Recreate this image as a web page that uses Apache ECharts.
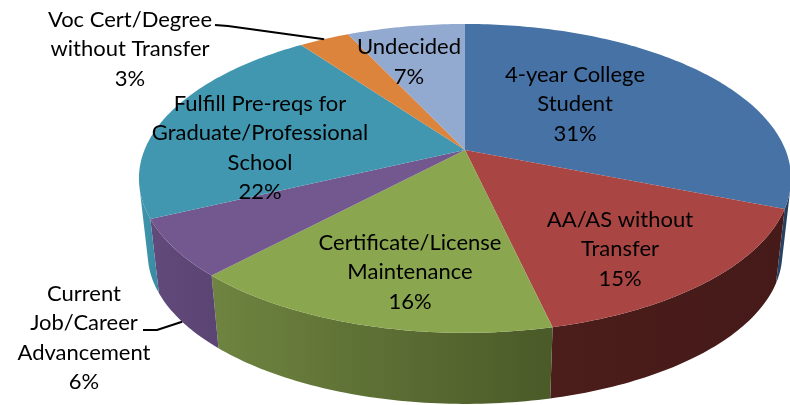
<!DOCTYPE html>
<html>
<head>
<meta charset="utf-8">
<style>
html, body { margin: 0; padding: 0; background: #fff; }
#main { width: 790px; height: 405px; }
</style>
<script src="https://cdn.jsdelivr.net/npm/echarts@6/dist/echarts.min.js"></script>
</head>
<body>
<div id="main"></div>
<script>
// clockwise from 12 o'clock, same order as the source chart
var categories = [
    '4-year College\nStudent',
    'AA/AS without\nTransfer',
    'Certificate/License\nMaintenance',
    'Current\nJob/Career\nAdvancement',
    'Fulfill Pre-reqs for\nGraduate/Professional\nSchool',
    'Voc Cert/Degree\nwithout Transfer',
    'Undecided'
];
// labels show them rounded
var values = [31, 15.4, 15.6, 6, 22, 3, 7];

var topColors = ['#4672a6', '#a94543', '#8aa64e', '#72588f', '#4297b0', '#dd843c', '#92a9d0'];
// wall shade, left to right
var wallLeft = ['#2b4668', '#4b1d1b', '#6f8440', '#624a7c', '#3f96ae', '#a9642d', '#6e80a0'];
var wallRight = ['#243c5a', '#451a18', '#4a5a28', '#5a4472', '#3a8aa2', '#a9642d', '#6e80a0'];

// where each text block is centred
var labelX = [575, 620, 410, 84, 260, 130, 409];
var labelY = [104, 249, 272, 338, 148, 49, 62];

// perspective of the disc
var cx = 465, cy = 150, radX = 320.5, radY = 149.2, tilt = 0.184;
var depth = 76, bottomScale = 0.973;

var total = 0;
var starts = [];
for (var i = 0; i < values.length; i++) {
    starts.push(total);
    total += values[i];
}

function project(angle, bottom) {
    var u = Math.sin(angle);
    var v = -Math.cos(angle);
    var w = 1 - tilt * v;
    var s = bottom ? bottomScale : 1;
    return [cx + s * radX * u / w, cy + (bottom ? depth : 0) + s * radY * v / w];
}

function toAngle(share) {
    return share / total * Math.PI * 2;
}

function sampleAngles(from, to) {
    var list = [];
    var n = Math.max(4, Math.ceil((to - from) * 60));
    for (var k = 0; k <= n; k++) {
        list.push(from + (to - from) * k / n);
    }
    return list;
}

// true where the wall faces the viewer at this angle
function facesFront(angle) {
    var p = project(angle, false);
    var next = project(angle + 0.001, false);
    var q = project(angle, true);
    return (q[0] - p[0]) * (next[1] - p[1]) - (q[1] - p[1]) * (next[0] - p[0]) > 0;
}

function renderWall(params) {
    var i = params.dataIndex;
    var a = toAngle(starts[i]);
    var b = toAngle(starts[i] + values[i]);
    var angles = sampleAngles(a, b).filter(facesFront);
    if (angles.length < 2) {
        return null;
    }
    var upper = angles.map(function (t) { return project(t, false); });
    var lower = angles.map(function (t) { return project(t, true); }).reverse();
    return {
        type: 'polygon',
        shape: { points: upper.concat(lower) },
        style: {
            fill: new echarts.graphic.LinearGradient(0, 0, 1, 0, [
                { offset: 0, color: wallLeft[i] },
                { offset: 1, color: wallRight[i] }
            ])
        }
    };
}

function renderTop(params) {
    var i = params.dataIndex;
    var a = toAngle(starts[i]);
    var b = toAngle(starts[i] + values[i]);
    var rim = sampleAngles(a, b).map(function (t) { return project(t, false); });
    return {
        type: 'polygon',
        shape: { points: [[cx, cy]].concat(rim) },
        style: { fill: topColors[i] }
    };
}

function leader(points) {
    return {
        type: 'polyline',
        shape: { points: points },
        style: { stroke: '#000', lineWidth: 2, fill: null }
    };
}

function renderLabel(params) {
    var i = params.dataIndex;
    var children = [{
        type: 'text',
        style: {
            text: categories[i] + '\n' + Math.round(values[i]) + '%',
            x: labelX[i],
            y: labelY[i],
            align: 'center',
            verticalAlign: 'middle',
            fontFamily: 'Lato',
            fontSize: 22,
            lineHeight: 29.5,
            fill: '#000'
        }
    }];
    var mid = toAngle(starts[i] + values[i] / 2);
    // the two outside labels get a leader line to their slice
    if (i === 3) {
        children.push(leader([[143, 330], [157, 330], project(mid, true)]));
    }
    if (i === 5) {
        children.push(leader([[215, 25], [228, 26], project(mid, false)]));
    }
    return { type: 'group', children: children };
}

var myChart = echarts.init(document.getElementById('main'));
myChart.setOption({
    animation: false,
    backgroundColor: '#fff',
    series: [
        { type: 'custom', coordinateSystem: 'none', silent: true, z: 1, data: values, renderItem: renderWall },
        { type: 'custom', coordinateSystem: 'none', silent: true, z: 2, data: values, renderItem: renderTop },
        { type: 'custom', coordinateSystem: 'none', silent: true, z: 3, data: values, renderItem: renderLabel }
    ]
});
</script>
</body>
</html>
